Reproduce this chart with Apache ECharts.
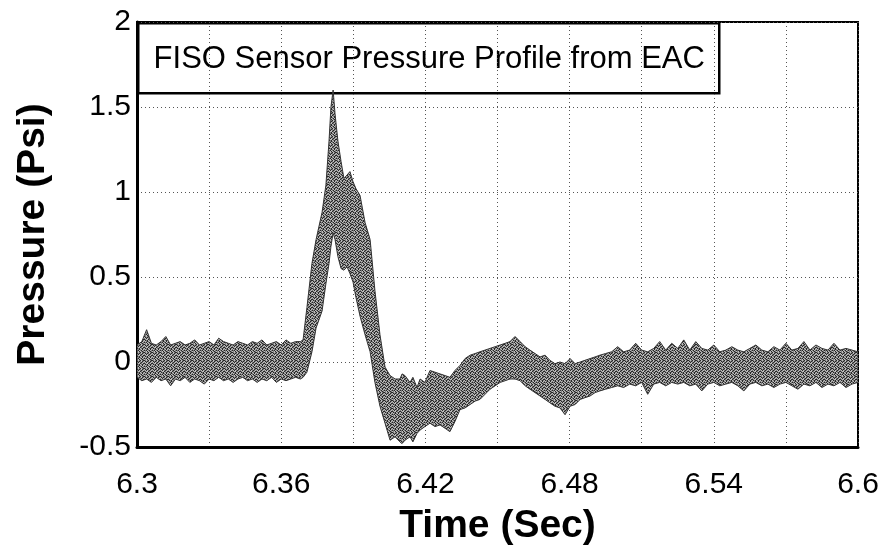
<!DOCTYPE html>
<html>
<head>
<meta charset="utf-8">
<script src="https://cdn.jsdelivr.net/npm/echarts@6/dist/echarts.min.js"></script>
<style>html,body{margin:0;padding:0;background:#fff}#c{width:882px;height:545px}</style>
</head>
<body>
<div id="c"></div>
<script>
// ---- data (envelope of the noisy pressure trace) ----
var times = [
  6.300,6.302,6.304,6.306,6.308,6.310,6.312,6.314,6.316,6.318,
  6.320,6.322,6.324,6.326,6.328,6.330,6.332,6.334,6.336,6.338,
  6.340,6.342,6.344,6.346,6.348,6.350,6.352,6.354,6.356,6.358,
  6.360,6.362,6.364,6.366,6.368,
  6.3691,6.3707,6.3728,6.3745,6.3770,6.3786,6.3799,6.3807,6.3816,6.3824,
  6.3836,6.3849,6.3861,6.3874,6.3886,6.3899,6.3911,6.3928,6.3949,6.3970,
  6.3990,6.4011,6.4032,6.4053,
  6.4074,6.4094,6.4103,6.4115,6.4136,6.4148,6.4165,6.4178,6.4198,6.4219,
  6.4240,6.4261,6.4282,6.4302,6.4323,6.4344,6.4365,6.4386,6.4407,6.4427,
  6.4448,6.4469,6.4490,6.4511,6.4532,6.4552,6.4573,6.4594,6.4615,6.4635,
  6.4656,6.4677,6.4698,6.4718,6.4739,6.4760,6.4781,6.4802,6.4823,6.4844,
  6.4864,6.4885,6.4906,6.4926,
  6.4950,6.4975,6.5000,6.5025,6.5050,6.5075,6.5100,6.5125,6.5150,6.5175,
  6.5200,6.5225,6.5250,6.5275,6.5300,6.5325,6.5350,6.5375,6.5400,6.5425,
  6.5450,6.5475,6.5500,6.5525,6.5550,6.5575,6.5600,6.5625,6.5650,6.5675,
  6.5700,6.5725,6.5750,6.5775,6.5800,6.5825,6.5850,6.5875,6.5900,6.5925,
  6.5950,6.5975,6.6000
];
var upper = [
  0.10,0.12,0.19,0.11,0.10,0.12,0.15,0.10,0.11,0.12,
  0.10,0.11,0.13,0.10,0.11,0.12,0.10,0.14,0.12,0.11,
  0.10,0.12,0.11,0.10,0.12,0.11,0.13,0.10,0.11,0.12,
  0.10,0.13,0.11,0.12,0.12,
  0.13,0.32,0.58,0.72,0.88,1.04,1.30,1.50,1.60,1.46,
  1.30,1.18,1.08,1.10,1.12,1.06,1.02,0.98,0.82,0.72,
  0.42,0.16,-0.03,-0.08,
  -0.10,-0.10,-0.07,-0.08,-0.12,-0.09,-0.15,-0.10,-0.12,-0.05,
  -0.06,-0.07,-0.08,-0.09,-0.05,-0.02,0.02,0.04,0.05,0.06,
  0.07,0.08,0.09,0.10,0.11,0.12,0.15,0.12,0.09,0.07,
  0.05,0.03,0.04,0.01,-0.01,0.00,-0.01,0.02,-0.01,0.00,
  0.01,0.02,0.03,0.04,
  0.05,0.06,0.09,0.06,0.07,0.11,0.07,0.06,0.08,0.12,
  0.07,0.11,0.08,0.13,0.07,0.12,0.08,0.07,0.10,0.06,
  0.07,0.09,0.07,0.06,0.08,0.10,0.07,0.06,0.09,0.07,
  0.11,0.07,0.08,0.12,0.07,0.10,0.08,0.07,0.11,0.07,
  0.08,0.07,0.06
];
var lower = [
  -0.09,-0.11,-0.10,-0.12,-0.09,-0.11,-0.10,-0.14,-0.10,-0.11,
  -0.09,-0.12,-0.10,-0.11,-0.13,-0.10,-0.11,-0.09,-0.11,-0.10,
  -0.12,-0.10,-0.09,-0.11,-0.10,-0.12,-0.10,-0.11,-0.09,-0.12,
  -0.10,-0.11,-0.10,-0.09,-0.10,
  -0.09,-0.06,0.06,0.20,0.30,0.46,0.58,0.68,0.76,0.72,
  0.62,0.55,0.54,0.56,0.52,0.47,0.38,0.27,0.16,0.06,
  -0.12,-0.26,-0.36,-0.46,
  -0.44,-0.47,-0.48,-0.46,-0.44,-0.47,-0.42,-0.40,-0.38,-0.36,
  -0.38,-0.37,-0.39,-0.41,-0.35,-0.28,-0.27,-0.25,-0.23,-0.22,
  -0.19,-0.16,-0.14,-0.12,-0.11,-0.10,-0.10,-0.11,-0.14,-0.16,
  -0.18,-0.20,-0.22,-0.24,-0.26,-0.27,-0.31,-0.26,-0.25,-0.22,
  -0.21,-0.20,-0.18,-0.17,
  -0.16,-0.15,-0.14,-0.15,-0.13,-0.14,-0.12,-0.19,-0.13,-0.12,
  -0.14,-0.12,-0.13,-0.12,-0.14,-0.13,-0.17,-0.13,-0.12,-0.14,
  -0.13,-0.12,-0.14,-0.17,-0.13,-0.12,-0.14,-0.13,-0.15,-0.13,
  -0.12,-0.14,-0.16,-0.13,-0.14,-0.12,-0.15,-0.13,-0.14,-0.12,
  -0.15,-0.13,-0.12
];
var xTickLabels = ['6.3', '6.36', '6.42', '6.48', '6.54', '6.6'];
var yTickLabels = ['-0.5', '0', '0.5', '1', '1.5', '2'];
var chartTitle = 'FISO Sensor Pressure Profile from EAC';

// dithered texture to mimic the scanned trace
function makePattern() {
  var map = [
    '#+.+#.+#',
    '.#+#+.#+',
    '+.#.+#+.',
    '#+..#+.#',
    '.#+#.+#+',
    '+.+#+.#.',
    '#+#.+#.+',
    '.+.#.+#+'
  ];
  var colors = { '#': '#262626', '+': '#7c7c7c', '.': '#bdbdbd' };
  var cv = document.createElement('canvas');
  cv.width = 8; cv.height = 8;
  var ctx = cv.getContext('2d');
  for (var r = 0; r < 8; r++) {
    for (var c = 0; c < 8; c++) {
      ctx.fillStyle = colors[map[r].charAt(c)];
      ctx.fillRect(c, r, 1, 1);
    }
  }
  return cv;
}
var patternCanvas = makePattern();

var bandData = times.map(function (t, i) { return [t, lower[i], upper[i]]; });

var chart = echarts.init(document.getElementById('c'), null, { renderer: 'canvas' });
var FONT = '"Liberation Sans", Arial, sans-serif';
chart.setOption({
  animation: false,
  backgroundColor: '#fff',
  grid: { left: 137, right: 24, top: 22, bottom: 98, outerBoundsMode: 'none', containLabel: false, show: true, borderColor: '#000', borderWidth: 2, backgroundColor: 'transparent' },
  xAxis: {
    type: 'value', min: 6.3, max: 6.6, interval: 0.03,
    name: 'Time (Sec)', nameLocation: 'middle', nameGap: 60,
    nameTextStyle: { fontFamily: FONT, fontSize: 39, fontWeight: 'bold', color: '#000' },
    axisLine: { show: true, onZero: false, lineStyle: { color: '#000', width: 3 } },
    axisTick: { show: false },
    axisLabel: {
      margin: 23, fontFamily: FONT, fontSize: 30, color: '#000',
      formatter: function (v) {
        var k = Math.round((v - 6.3) / 0.03);
        return (k % 2 === 0) ? (xTickLabels[k / 2] || '') : '';
      }
    },
    splitLine: { show: true, lineStyle: { color: '#555', width: 1, type: [1, 3] } }
  },
  yAxis: {
    type: 'value', min: -0.5, max: 2, interval: 0.5,
    name: 'Pressure (Psi)', nameLocation: 'middle', nameGap: 84,
    nameTextStyle: { fontFamily: FONT, fontSize: 39, fontWeight: 'bold', color: '#000' },
    axisLine: { show: true, onZero: false, lineStyle: { color: '#000', width: 3 } },
    axisTick: { show: false },
    axisLabel: {
      margin: 6, fontFamily: FONT, fontSize: 30, color: '#000',
      formatter: function (v) {
        var k = Math.round((v + 0.5) / 0.5);
        return yTickLabels[k] || '';
      }
    },
    splitLine: { show: true, lineStyle: { color: '#555', width: 1, type: [1, 3] } }
  },
  series: [{
    type: 'custom',
    name: 'Pressure',
    data: bandData,
    encode: { x: 0, y: [1, 2] },
    clip: true,
    renderItem: function (params, api) {
      if (params.dataIndexInside !== 0) return null;
      var n = params.dataInsideLength;
      var pts = [];
      for (var i = 0; i < n; i++) pts.push(api.coord([api.value(0, i), api.value(2, i)]));
      for (var j = n - 1; j >= 0; j--) pts.push(api.coord([api.value(0, j), api.value(1, j)]));
      return {
        type: 'polygon',
        shape: { points: pts },
        style: { fill: { image: patternCanvas, repeat: 'repeat' }, stroke: '#333', lineWidth: 1 }
      };
    }
  }],
  graphic: [{
    type: 'group', left: 137, top: 22, z: 100,
    children: [
      { type: 'rect', shape: { x: 0, y: 0, width: 581, height: 70 }, style: { fill: '#fff', stroke: '#000', lineWidth: 2.5 } },
      { type: 'text', x: 291, y: 36, style: { text: chartTitle, font: '31px ' + FONT, fill: '#000', align: 'center', verticalAlign: 'middle' } }
    ]
  }]
});
</script>
</body>
</html>
